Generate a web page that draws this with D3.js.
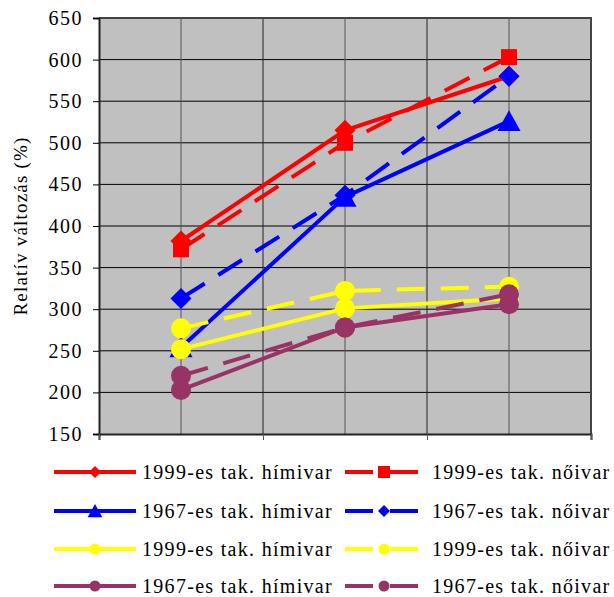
<!DOCTYPE html>
<html>
<head>
<meta charset="utf-8">
<script src="https://cdn.jsdelivr.net/npm/d3@7.9.0/dist/d3.min.js"></script>
<style>
  body { margin: 0; background: #fff; }
  svg text { font-family: "Liberation Serif", serif; fill: #000; }
</style>
</head>
<body>
<div id="chart"></div>
<script>
// three sampling points, no labels on the x axis
const categories = ['', '', ''];
const yTicks = [150, 200, 250, 300, 350, 400, 450, 500, 550, 600, 650];

const red1999Him = [382, 515, 580];
const red1999No = [372, 500, 603];
const blue1967Him = [254, 435, 526];
const blue1967No = [313, 437, 580];
const yellow1999Him = [252, 301, 313];
const yellow1999No = [277, 322, 327];
const purple1967Him = [203, 278, 306];
const purple1967No = [220, 278, 318];

const seriesNames = [
  '1999-es tak. hímivar', '1999-es tak. nőivar',
  '1967-es tak. hímivar', '1967-es tak. nőivar',
  '1999-es tak. hímivar', '1999-es tak. nőivar',
  '1967-es tak. hímivar', '1967-es tak. nőivar'
];

const series = [
  { name: seriesNames[0], values: red1999Him, color: '#ff0000', dashed: false, marker: 'diamond' },
  { name: seriesNames[1], values: red1999No, color: '#ff0000', dashed: true, marker: 'square' },
  { name: seriesNames[2], values: blue1967Him, color: '#0000ff', dashed: false, marker: 'triangle' },
  { name: seriesNames[3], values: blue1967No, color: '#0000ff', dashed: true, marker: 'diamond' },
  { name: seriesNames[4], values: yellow1999Him, color: '#ffff00', dashed: false, marker: 'circle' },
  { name: seriesNames[5], values: yellow1999No, color: '#ffff00', dashed: true, marker: 'circle' },
  { name: seriesNames[6], values: purple1967Him, color: '#993366', dashed: false, marker: 'circle' },
  { name: seriesNames[7], values: purple1967No, color: '#993366', dashed: true, marker: 'circle' }
];

const width = 614;
const height = 597;
const plot = { left: 99, right: 591, top: 18, bottom: 434 };

const svg = d3.select('#chart').append('svg')
  .attr('width', width)
  .attr('height', height);

const xScale = d3.scaleLinear()
  .domain([0, categories.length])
  .range([plot.left, plot.right]);

const yScale = d3.scaleLinear()
  .domain([150, 650])
  .range([plot.bottom, plot.top]);

// plot background
svg.append('rect')
  .attr('x', plot.left)
  .attr('y', plot.top)
  .attr('width', plot.right - plot.left)
  .attr('height', plot.bottom - plot.top)
  .attr('fill', '#c0c0c0');

// horizontal grid
svg.append('g')
  .selectAll('line')
  .data(yTicks.slice(1, -1))
  .join('line')
  .attr('x1', plot.left).attr('x2', plot.right)
  .attr('y1', d => yScale(d)).attr('y2', d => yScale(d))
  .attr('stroke', '#000').attr('stroke-width', 1);

// vertical grid: category centres and boundaries
const vGrid = d3.range(0.5, categories.length, 0.5);
svg.append('g')
  .selectAll('line')
  .data(vGrid)
  .join('line')
  .attr('x1', d => xScale(d)).attr('x2', d => xScale(d))
  .attr('y1', plot.top).attr('y2', plot.bottom)
  .attr('stroke', d => d % 1 === 0 ? '#222' : '#555')
  .attr('stroke-width', 1);

// frame (top and right)
svg.append('path')
  .attr('d', `M${plot.left},${plot.top}H${plot.right}V${plot.bottom}`)
  .attr('fill', 'none')
  .attr('stroke', '#444')
  .attr('stroke-width', 2);

// y axis
const yAxis = d3.axisLeft(yScale)
  .tickValues(yTicks)
  .tickSize(6)
  .tickPadding(10)
  .tickFormat(d3.format('d'));

const yAxisG = svg.append('g')
  .attr('transform', `translate(${plot.left},0)`)
  .attr('font-family', null)
  .call(yAxis);
yAxisG.select('.domain').attr('stroke', '#222').attr('stroke-width', 2);
yAxisG.selectAll('.tick line').attr('stroke', '#000');
yAxisG.selectAll('.tick text')
  .style('font-size', '20px')
  .style('letter-spacing', '1.5px');

// x axis (ticks on category boundaries, no labels)
const xAxis = d3.axisBottom(xScale)
  .tickValues(d3.range(0, categories.length + 1))
  .tickSize(6)
  .tickFormat('');
const xAxisG = svg.append('g')
  .attr('transform', `translate(0,${plot.bottom})`)
  .call(xAxis);
xAxisG.select('.domain').attr('stroke', '#222').attr('stroke-width', 2);
xAxisG.selectAll('.tick line').attr('stroke', '#555');

// y axis title
svg.append('text')
  .attr('transform', `translate(27,${(plot.top + plot.bottom) / 2}) rotate(-90)`)
  .attr('text-anchor', 'middle')
  .style('font-size', '19px')
  .style('letter-spacing', '1.2px')
  .text('Relatív változás (%)');

function markerPath(type, s) {
  if (type === 'diamond') return `M0,${-s}L${s},0L0,${s}L${-s},0Z`;
  if (type === 'square') return `M${-s},${-s}H${s}V${s}H${-s}Z`;
  if (type === 'triangle') return `M0,${-s}L${s * 1.05},${s * 0.9}H${-s * 1.05}Z`;
  return null;
}

function drawMarker(g, type, x, y, size, color) {
  if (type === 'circle') {
    g.append('circle').attr('cx', x).attr('cy', y).attr('r', size).attr('fill', color);
  } else {
    g.append('path')
      .attr('d', markerPath(type, size))
      .attr('transform', `translate(${x},${y})`)
      .attr('fill', color);
  }
}

const chartSizes = { diamond: 10.5, square: 8, triangle: 11, circle: 10 };
const legendSizes = { diamond: 6, square: 6, triangle: 7, circle: 5.5 };

const line = d3.line()
  .x((d, i) => xScale(i + 0.5))
  .y(d => yScale(d));

const seriesG = svg.append('g');
series.forEach(s => {
  const g = seriesG.append('g');
  g.append('path')
    .attr('d', line(s.values))
    .attr('fill', 'none')
    .attr('stroke', s.color)
    .attr('stroke-width', 4)
    .attr('stroke-dasharray', s.dashed ? '28,16' : null);
  s.values.forEach((v, i) => {
    drawMarker(g, s.marker, xScale(i + 0.5), yScale(v), chartSizes[s.marker], s.color);
  });
});

// legend: two columns, four rows
const legendRows = [472, 511, 549, 586];
const legendCols = [
  { x1: 54, x2: 136, mx: 95, tx: 142 },
  { x1: 345, x2: 418, mx: 384, tx: 432 }
];
const legend = svg.append('g');
series.forEach((s, i) => {
  const col = legendCols[i % 2];
  const y = legendRows[Math.floor(i / 2)];
  const g = legend.append('g');
  g.append('line')
    .attr('x1', col.x1).attr('x2', col.x2)
    .attr('y1', y).attr('y2', y)
    .attr('stroke', s.color)
    .attr('stroke-width', 4)
    .attr('stroke-dasharray', s.dashed ? '28,17' : null);
  drawMarker(g, s.marker, col.mx, y, legendSizes[s.marker], s.color);
  g.append('text')
    .attr('x', col.tx)
    .attr('y', y + 7)
    .style('font-size', '20px')
    .style('letter-spacing', '1.3px')
    .text(s.name);
});
</script>
</body>
</html>
